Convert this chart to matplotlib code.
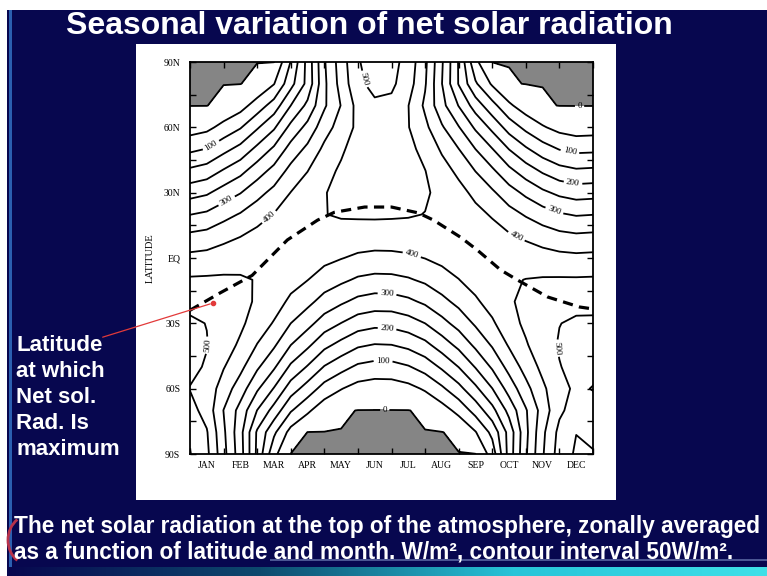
import numpy as np
import matplotlib.pyplot as plt
from matplotlib.colors import LinearSegmentedColormap
from matplotlib.patches import Rectangle, Arc

plt.rcParams['font.family'] = ['Liberation Serif', 'DejaVu Serif']

# rows of the table, north to south
lats = [90, 80, 70, 60, 50, 40, 30, 20, 10, 0, -10, -20, -30, -40, -50, -60, -70, -80, -90]
month_names = ["JAN", "FEB", "MAR", "APR", "MAY", "JUN", "JUL", "AUG", "SEP", "OCT", "NOV", "DEC"]

# net solar radiation (W/m2), on the 1st and the 15th of each month
jan1 = [0, 0, 0, 27, 89, 160, 231, 299, 361, 414, 456, 488, 507, 514, 512, 498, 518, 543, 552]
jan15 = [0, 0, 0, 37, 102, 173, 243, 309, 368, 418, 457, 484, 499, 502, 495, 481, 481, 504, 512]
feb1 = [0, 0, 8, 66, 135, 205, 272, 333, 385, 427, 457, 475, 480, 472, 453, 426, 399, 409, 416]
feb15 = [0, 0, 30, 96, 166, 235, 298, 354, 399, 433, 455, 464, 459, 442, 413, 375, 332, 317, 322]
mar1 = [0, 8, 73, 144, 213, 277, 333, 380, 415, 438, 448, 444, 428, 398, 358, 307, 249, 193, 189]
mar15 = [0, 48, 122, 193, 259, 316, 365, 402, 427, 439, 438, 423, 396, 357, 307, 247, 181, 110, 63]
apr1 = [102, 133, 200, 264, 319, 366, 401, 425, 435, 433, 418, 390, 350, 300, 241, 175, 105, 32, 0]
apr15 = [217, 215, 262, 315, 362, 399, 425, 438, 438, 426, 401, 364, 316, 260, 196, 128, 59, 0, 0]
may1 = [345, 340, 343, 379, 411, 435, 448, 449, 437, 413, 377, 331, 276, 213, 147, 80, 19, 0, 0]
may15 = [425, 419, 402, 421, 443, 457, 461, 454, 434, 402, 360, 308, 249, 184, 117, 52, 3, 0, 0]
jun1 = [496, 489, 467, 461, 471, 477, 472, 456, 429, 391, 343, 287, 224, 157, 91, 31, 0, 0, 0]
jun15 = [523, 515, 491, 476, 482, 483, 476, 457, 427, 386, 336, 278, 214, 147, 82, 24, 0, 0, 0]
jul1 = [518, 510, 487, 473, 480, 482, 474, 456, 427, 387, 337, 279, 215, 149, 83, 25, 0, 0, 0]
jul15 = [480, 472, 451, 452, 463, 470, 468, 454, 428, 392, 345, 290, 228, 162, 96, 35, 0, 0, 0]
aug1 = [411, 405, 391, 412, 435, 451, 456, 449, 431, 401, 359, 309, 250, 186, 120, 56, 4, 0, 0]
aug15 = [306, 301, 316, 356, 393, 420, 437, 441, 433, 412, 380, 336, 284, 224, 158, 91, 28, 0, 0]
sep1 = [196, 197, 248, 303, 351, 389, 416, 430, 433, 422, 399, 364, 318, 263, 201, 134, 65, 5, 0]
sep15 = [61, 107, 177, 242, 300, 349, 388, 414, 429, 430, 418, 393, 357, 310, 253, 189, 119, 47, 0]
oct1 = [0, 43, 117, 187, 252, 309, 358, 395, 421, 433, 433, 419, 393, 355, 307, 249, 184, 114, 71]
oct15 = [0, 2, 59, 129, 199, 263, 321, 369, 406, 432, 445, 444, 431, 405, 367, 320, 266, 218, 220]
nov1 = [0, 0, 23, 87, 157, 225, 289, 345, 392, 428, 451, 462, 460, 445, 419, 384, 345, 337, 343]
nov15 = [0, 0, 3, 55, 122, 193, 260, 323, 377, 421, 454, 475, 483, 479, 463, 440, 421, 439, 445]
dec1 = [0, 0, 0, 34, 98, 168, 239, 305, 364, 415, 455, 483, 499, 504, 498, 486, 490, 514, 522]
dec15 = [0, 0, 0, 25, 87, 157, 228, 296, 358, 412, 455, 487, 507, 515, 514, 508, 524, 549, 557]

# dashed line: latitude where net solar radiation is largest
max_month = [0, 0.9, 1.85, 2.9, 3.8, 4.3, 5.2, 6.0, 6.8, 7.25, 8.05, 8.55, 9.25, 9.75, 10.65, 11.6, 12]
max_lat = [-24, -16, -8, 8.3, 17.4, 21, 23.4, 23.4, 20.7, 17.4, 9.6, 3.7, -5.5, -10.1, -17.9, -22.5, -23.4]

lat_ticks = [90, 60, 30, 0, -30, -60, -90]
lat_labels = ["90N", "60N", "30N", "EQ", "30S", "60S", "90S"]

NAVY = "#07074f"
W, H = 767, 576

def fx(px):
    return px / W

def fy(py):
    return 1 - py / H

# half-month columns, wrapped round so the year edges join up
cols = [jan1, jan15, feb1, feb15, mar1, mar15, apr1, apr15, may1, may15, jun1, jun15,
        jul1, jul15, aug1, aug15, sep1, sep15, oct1, oct15, nov1, nov15, dec1, dec15]
grid = np.array([dec15] + cols + [jan1, jan15], dtype=float).T
xs = np.arange(-0.5, 12.6, 0.5)
ys = np.array(lats, dtype=float)

fig = plt.figure(figsize=(W / 100, H / 100), dpi=100)
fig.patch.set_facecolor(NAVY)

# slide decorations
fig.add_artist(Rectangle((0, fy(10)), 1, 10 / H, transform=fig.transFigure,
                         facecolor='white', edgecolor='none', zorder=-2))
fig.add_artist(Rectangle((0, 0), fx(7), 1, transform=fig.transFigure,
                         facecolor='white', edgecolor='none', zorder=-2))
fig.add_artist(Rectangle((fx(9), 0), fx(3), fy(10), transform=fig.transFigure,
                         facecolor='#2b5fb0', edgecolor='none', zorder=-2))
fig.add_artist(Rectangle((fx(136), fy(500)), 480 / W, 456 / H, transform=fig.transFigure,
                         facecolor='white', edgecolor='none', zorder=-1))

ax = fig.add_axes([fx(190), fy(454), 403 / W, 392 / H])

ax.contourf(xs, ys, grid, levels=[-1, 0.5], colors=['#858585'])
zero = ax.contour(xs, ys, grid, levels=[0.5], colors='k', linewidths=1.3)
plain = ax.contour(xs, ys, grid, levels=np.arange(50, 551, 100), colors='k', linewidths=1.3)
named = ax.contour(xs, ys, grid, levels=np.arange(100, 501, 100), colors='k', linewidths=1.3)

lab_pos = [(11.3, 48), (11.4, 34), (10.8, 20), (9.7, 9.5),
           (0.66, 51), (1.13, 25.3), (2.3, 19.7),
           (6.6, 1.4), (5.87, -16), (5.87, -32), (5.75, -47),
           (5.15, 82), (0.5, -40), (11.1, -41)]
ax.clabel(named, manual=lab_pos, fmt='%d', fontsize=6.5, inline_spacing=2)
ax.clabel(zero, manual=[(11.6, 68), (5.8, -68)], fmt={0.5: '0'},
          fontsize=6.5, inline_spacing=2)

ax.plot(max_month, max_lat, color='k', lw=2.3, dashes=(3.2, 2))

ax.set_xlim(0, 12)
ax.set_ylim(-90, 90)
ax.set_xticks(range(13))
ax.set_xticklabels([])
ax.set_xticks(np.arange(0.5, 12), minor=True)
ax.set_xticklabels(month_names, minor=True)
ax.tick_params(axis='x', which='minor', length=0, pad=5, labelsize=7)
ax.tick_params(axis='x', which='major', direction='in', length=4, width=1, top=True)
ax.set_yticks(lat_ticks, lat_labels)
ax.set_yticks(range(-75, 90, 30), minor=True)
ax.tick_params(axis='y', which='both', direction='in', length=4, width=1,
               right=True, labelsize=7, pad=7)
ax.set_ylabel('LATITUDE', fontsize=7.5, labelpad=6)
for s in ax.spines.values():
    s.set_linewidth(1.3)

# pointer to the dashed line
ax.annotate('', xy=(0.68, -20.7), xycoords='data',
            xytext=(fx(100), fy(338)), textcoords='figure fraction',
            arrowprops=dict(arrowstyle='-', color='#e23a3a', lw=0.9))
ax.plot(0.68, -20.7, 'o', color='#e23a3a', ms=3, clip_on=False)

sans = ['Liberation Sans', 'DejaVu Sans']
fig.text(0.482, fy(26), 'Seasonal variation of net solar radiation', ha='center', va='center',
         color='white', fontsize=23, fontweight='bold', family=sans)
fig.text(fx(16), fy(335), 'Latitude\nat which\nNet sol.\nRad. Is\nmaximum', ha='left', va='top',
         color='white', fontsize=16, fontweight='bold', family=sans, linespacing=1.32)
fig.text(fx(14), fy(527), 'The net solar radiation at the top of the atmosphere, zonally averaged',
         ha='left', va='center', color='white', fontsize=16.3, fontweight='bold', family=sans)
fig.text(fx(14), fy(552), 'as a function of latitude and month. W/m\u00b2, contour interval 50W/m\u00b2.',
         ha='left', va='center', color='white', fontsize=16.3, fontweight='bold', family=sans)

# faint glare streak across the second caption line
fig.add_artist(Rectangle((fx(270), fy(561)), 1 - fx(270), 2 / H, transform=fig.transFigure,
                         facecolor='#9fb8e8', edgecolor='none', alpha=0.45, zorder=3))

# bottom glow bar
bar = fig.add_axes([fx(7), 0, 1 - fx(7), 9 / H])
cmap = LinearSegmentedColormap.from_list('glow', [NAVY, '#0d4a6e', '#27c4d8', '#3fe0e8'])
bar.imshow(np.linspace(0, 1, 256)[None, :], aspect='auto', cmap=cmap)
bar.axis('off')

fig.add_artist(Arc((fx(30), fy(540)), 44 / W, 50 / H, theta1=115, theta2=245,
                   transform=fig.transFigure, color='#b8324a', lw=2))

fig.savefig('out.png', dpi=100, facecolor=fig.get_facecolor())
